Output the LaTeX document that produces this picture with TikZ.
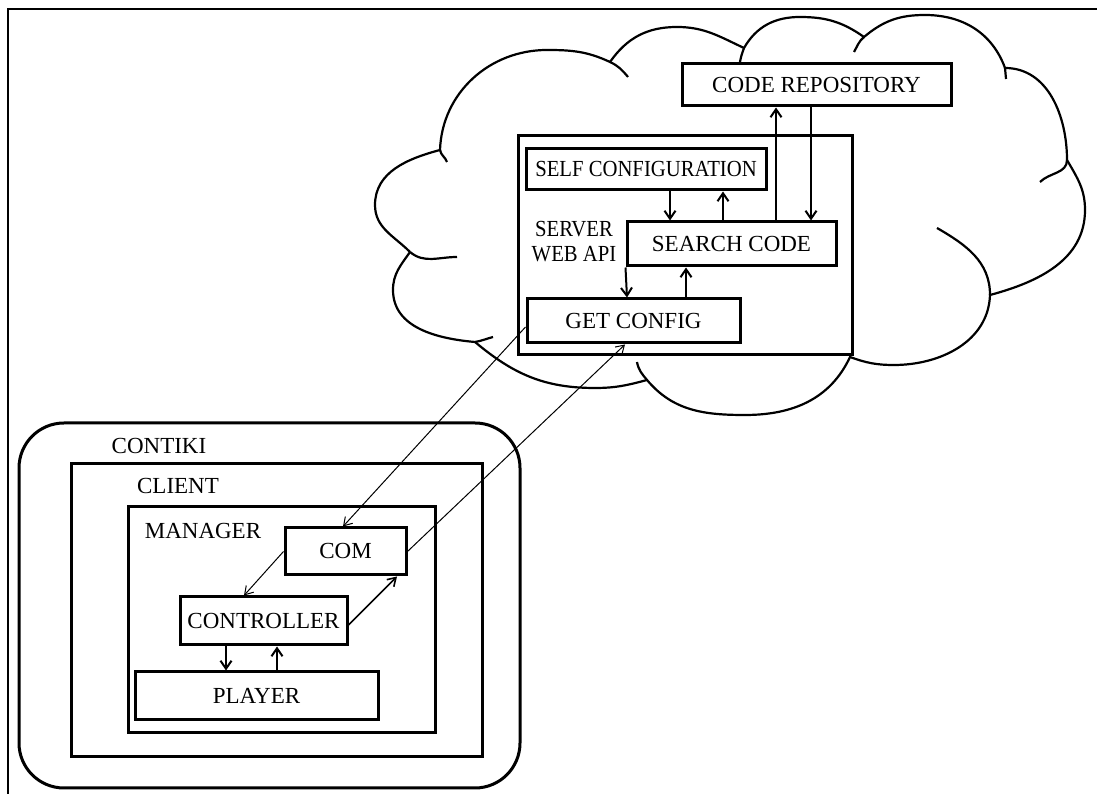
\documentclass[tikz,border=0pt]{standalone}
\usepackage{fontspec}
\setmainfont{Liberation Serif}
\newfontfamily\narrowfont[FakeStretch=0.9]{Liberation Serif}
\usetikzlibrary{arrows.meta}

\begin{document}
\begin{tikzpicture}[
  x=1pt, y=1pt,
  font=\fontsize{23}{25}\selectfont,
  box/.style={draw, line width=3pt, inner sep=0pt},
  lbl/.style={inner sep=0pt, align=center},
  cloudline/.style={line width=2.2pt},
  link/.style={line width=2pt, -{Straight Barb[length=8pt,width=11pt]}},
  thinlink/.style={line width=1pt, -{Straight Barb[length=8pt,width=10pt]}}
]
\useasboundingbox (0,0) rectangle (1097,794);

% frame
\draw[line width=1.5pt] (1097,785) -- (8,785) -- (8,0);

% Cloud
\draw[cloudline] (410,542) to[out=135,in=270] (375,589) to[out=90,in=195] (440,644)
  to[out=88,in=180] (547,744) to[out=0,in=155] (610,732)
  to[out=55,in=180] (677,767) to[out=0,in=155] (744,746)
  to[out=60,in=180] (800,777) to[out=0,in=145] (864,757)
  to[out=40,in=180] (925,779) to[out=0,in=110] (1005,726)
  to[out=0,in=90] (1067,634)
  to[out=-60,in=90] (1085,584) to[out=270,in=15] (990,499)
  to[out=268,in=0] (894,429) to[out=180,in=340] (850,437)
  to[out=245,in=0] (745,379) to[out=180,in=-50] (647,414)
  to[out=195,in=0] (595,406) to[out=180,in=-40] (475,452)
  to[out=175,in=270] (393,504) to[out=90,in=235] (410,542);
\draw[cloudline] (410,542) to[out=-40,in=180] (457,537);
\draw[cloudline] (440,644) to[out=-80,in=110] (447,632);
\draw[cloudline] (610,732) to[out=-25,in=130] (628,717);
\draw[cloudline] (744,746) to[out=250,in=80] (740,732);
\draw[cloudline] (864,757) to[out=220,in=60] (854,742);
\draw[cloudline] (1005,726) -- (1006,715);
\draw[cloudline] (1067,634) to[out=270,in=45] (1040,612);
\draw[cloudline] (990,499) to[out=90,in=-30] (937,566);
\draw[cloudline] (647,414) to[out=130,in=-80] (637,432);
\draw[cloudline] (475,452) to[out=10,in=195] (493,457);

% Server side
\node[box, minimum width=334pt, minimum height=219pt] (server) at (685,548.5) {};
\node[box, minimum width=269pt, minimum height=42pt] (coderepo) at (816.5,709) {CODE REPOSITORY};
\node[box, minimum width=240pt, minimum height=41pt, font=\narrowfont\fontsize{23}{25}\selectfont] (selfconf) at (646,624.5) {SELF CONFIGURATION};
\node[box, minimum width=209pt, minimum height=44pt] (search) at (731.5,550) {SEARCH CODE};
\node[box, minimum width=213pt, minimum height=44pt] (getconf) at (633.5,473) {GET CONFIG};
\node[lbl, font=\narrowfont\fontsize{23}{25}\selectfont] (serverlbl) at (574,552.5) {SERVER\\WEB API};

\draw[link] ([xshift=24pt]selfconf.south) -- ([xshift=-61.5pt]search.north);
\draw[link] ([xshift=-8.5pt]search.north) -- ([xshift=77pt]selfconf.south);
\draw[link] ([xshift=44.5pt]search.north) -- ([xshift=-40.5pt]coderepo.south);
\draw[link] ([xshift=-5.5pt]coderepo.south) -- ([xshift=79.5pt]search.north);
\draw[link] (search.south west) -- ([xshift=-6.5pt]getconf.north);
\draw[link] ([xshift=52.5pt]getconf.north) -- ([xshift=-45.5pt]search.south);

% Client side
\node[box, rounded corners=45pt, minimum width=501pt, minimum height=365pt] (contiki) at (269.5,188.5) {};
\node[box, minimum width=411pt, minimum height=293pt] (client) at (276.5,183.5) {};
\node[box, minimum width=307pt, minimum height=226pt] (manager) at (281.5,174) {};
\node[box, minimum width=121pt, minimum height=47pt] (com) at (345.5,242.5) {COM};
\node[box, minimum width=167pt, minimum height=48pt] (controller) at (263.5,173) {CONTROLLER};
\node[box, minimum width=243pt, minimum height=48pt] (player) at (256.5,98) {PLAYER};
\node[lbl] (contikilbl) at (159,348) {CONTIKI};
\node[lbl] (clientlbl) at (178,308) {CLIENT};
\node[lbl] (managerlbl) at (203,262.5) {MANAGER};

\draw[link] ([xshift=-37.5pt]controller.south) -- ([xshift=-30.5pt]player.north);
\draw[link] ([xshift=20.5pt]player.north) -- ([xshift=13.5pt]controller.south);
\draw[thinlink] (com.west) -- ([xshift=-19.5pt]controller.north);
\draw[thinlink, line width=1.6pt] ([yshift=-4pt]controller.east) -- ([xshift=51.5pt]com.south);

% between client and server
\draw[thinlink] ([yshift=-6pt]getconf.west) -- ([xshift=-2.5pt]com.north);
\draw[thinlink] (com.east) -- ([xshift=-8.5pt]getconf.south);
\end{tikzpicture}
\end{document}
